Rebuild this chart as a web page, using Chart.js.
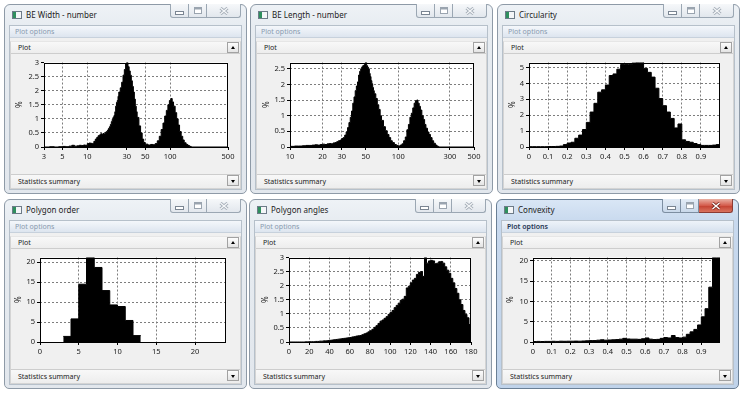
<!DOCTYPE html>
<html>
<head>
<meta charset="utf-8">
<script src="https://cdn.jsdelivr.net/npm/chart.js"></script>
<style>
*{box-sizing:border-box}
html,body{margin:0;padding:0;width:743px;height:396px;overflow:hidden;background:#fff;font-family:'Noto Sans','Open Sans',sans-serif;}
.win{position:absolute;width:243px;height:190px;border:1px solid #8e9aa7;border-radius:6px 6px 5px 5px;background:linear-gradient(#eef2f6 0,#e7ecf1 22px,#e2e7ed 100%);}
.win.active{border-color:#6a7f95;background:linear-gradient(#d9e6f5 0,#c8d9ee 22px,#c0d3ea 100%);}
.ico{position:absolute;left:7px;top:6px;width:10px;height:8px;border:1px solid #6d7b88;background:linear-gradient(90deg,#2f8f5e 0,#2f8f5e 3px,#f4f6f8 3px);}
.ttl{position:absolute;left:21px;top:3px;font-size:8px;line-height:13px;color:#1e1e1e;white-space:nowrap}
.caps{position:absolute;right:5px;top:-1px;height:14px;display:flex}
.cap{height:14px;border:1px solid #9ba7b3;border-top:none;background:linear-gradient(#f6f8fa,#e2e7ed);display:flex;align-items:center;justify-content:center}
.cap.mn{width:19px;border-radius:0 0 0 3px}
.cap.mx{width:18px;border-left:none}
.cap.cl{width:34px;border-left:none;border-radius:0 0 3px 0}
.active .cap{border-color:#7d8ea1;background:linear-gradient(#e3ecf6,#c9d8ea)}
.active .cap.cl{background:linear-gradient(#eab0a3,#d45c4c 50%,#c43f2f 51%,#d9735f);border-color:#8c3b33}
.client{position:absolute;left:5px;top:21px;width:231px;height:163px;background:#f0f0f0;box-shadow:0 0 0 1px #b6c0ca;}
.opts{position:absolute;left:0;top:0;width:100%;height:12px;background:linear-gradient(#f4f7fb,#dde5ef);border-bottom:1px solid #c7d1dc;font-size:7px;line-height:11px;padding-left:5px;color:#8899ae;white-space:nowrap}
.active .opts{color:#1f3552;background:linear-gradient(#eef3f9,#d6e1ee);font-weight:600}
.panel{position:absolute;left:0;top:15px;width:100%;height:148px;border:1px solid #d4d4d4;border-top-color:#e6e6e6;background:#f0f0f0}
.bar{position:absolute;left:0;width:100%;height:12px;font-size:7px;line-height:11px;color:#222;padding-left:7px;background:linear-gradient(#f8f8f8,#ededed);border-bottom:1px solid #cdcdcd;white-space:nowrap}
.bar.plot{top:0}
.bar.stat{top:132px;border-top:1px solid #cdcdcd;border-bottom:none;height:14px;line-height:13px}
.btn{position:absolute;right:1px;top:0;width:12px;height:11px;border:1px solid #a2a2a2;background:linear-gradient(#fdfdfd,#e4e4e4)}
.btn:after{content:'';position:absolute;left:2.5px;border-left:2.5px solid transparent;border-right:2.5px solid transparent}
.btn.up:after{top:3px;border-bottom:3px solid #000}
.btn.dn:after{top:4px;border-top:3px solid #000}
.cv{position:absolute}
</style>
</head>
<body>
<script>
// ---------- data ----------
// BE Width - number (log-binned, left bin edges in µm-like units, % per bin)
const widthX = [3,3.5,4,4.5,5,5.5,6,6.5,7,7.5,8,8.5,9,9.5,
  10,10.5,11,11.5,12,12.5,13,13.5,14,14.5,15,15.5,16,16.5,17,17.5,18,18.5,19,19.5,
  20,20.5,21,21.5,22,22.5,23,23.5,24,25,26,27,28,29,
  30,31,32,33,34,35,36,37,38,39,40,42,44,46,48,
  50,54,58,62,66,70,74,78,82,86,90,94,98,102,106,110,115,120,125,130,136,142,148,156,164,172,180];
const widthY = [0,0.01,0,0.01,0.02,0.01,0.03,0.06,0.03,0.04,0.06,0.05,0.07,0.06,
  0.12,0.14,0.13,0.12,0.2,0.28,0.34,0.4,0.43,0.47,0.45,0.48,0.46,0.52,0.55,0.6,0.66,0.72,0.8,0.9,
  0.98,1.06,1.12,1.25,1.45,1.58,1.65,1.8,1.95,2.1,2.3,2.55,2.75,2.95,
  3.0,2.85,2.7,2.55,2.35,2.15,1.95,1.7,1.45,1.25,1.05,0.75,0.5,0.28,0.16,
  0.1,0.07,0.09,0.08,0.12,0.22,0.38,0.62,0.85,1.1,1.3,1.5,1.65,1.72,1.6,1.45,1.22,1.0,0.78,0.55,0.38,0.25,0.15,0.09,0.05,0.02,0];
const widthEnd = 500;
const widthTicks = [3,5,10,30,50,100,500];
const widthYTicks = [0,0.5,1,1.5,2,2.5,3];

// BE Length - number
const lengthX = [10,11,12,13,14,15,16,17,18,19,20,21,22,23,24,25,26,27,28,29,
  30,31,32,33,34,35,36,37,38,39,40,41,42,43,44,45,46,47,48,49,
  50,51,52,53,54,55,56,57,58,59,60,62,64,66,68,70,73,76,79,82,85,88,92,96,
  100,104,108,112,116,120,124,128,132,136,140,144,148,152,156,160,165,170,175,180,186,192,198,205,212,220,228,236];
const lengthY = [0.02,0.03,0.03,0.04,0.05,0.05,0.06,0.07,0.06,0.08,0.09,0.08,0.1,0.11,0.1,0.13,0.14,0.17,0.2,0.22,
  0.27,0.3,0.38,0.48,0.62,0.78,0.95,1.15,1.4,1.6,1.8,1.95,2.08,2.3,2.42,2.5,2.56,2.6,2.62,2.68,
  2.7,2.6,2.55,2.5,2.35,2.25,2.12,2.02,1.9,1.8,1.7,1.55,1.35,1.2,1.0,0.85,0.65,0.52,0.4,0.3,0.2,0.14,0.08,0.05,
  0.03,0.06,0.1,0.2,0.32,0.55,0.72,0.95,1.08,1.25,1.4,1.48,1.5,1.4,1.3,1.18,
  1.0,0.88,0.72,0.6,0.48,0.4,0.3,0.2,0.12,0.06,0.02,0];
const lengthEnd = 500;
const lengthTicks = [10,20,30,50,100,300,500];
const lengthYTicks = [0,0.5,1,1.5,2,2.5];

// bins of 0.02 for Circularity and Convexity
const unitBins = [0,0.02,0.04,0.06,0.08,0.1,0.12,0.14,0.16,0.18,0.2,0.22,0.24,0.26,0.28,0.3,0.32,0.34,0.36,0.38,
  0.4,0.42,0.44,0.46,0.48,0.5,0.52,0.54,0.56,0.58,0.6,0.62,0.64,0.66,0.68,0.7,0.72,0.74,0.76,0.78,
  0.8,0.82,0.84,0.86,0.88,0.9,0.92,0.94,0.96,0.98];
const unitTicks = [0,0.1,0.2,0.3,0.4,0.5,0.6,0.7,0.8,0.9];

// Circularity
const circY = [0.02,0.02,0.02,0.02,0.02,0.03,0.03,0.04,0.06,0.15,
  0.25,0.3,0.55,0.75,1.1,1.55,2.2,2.75,3.45,3.6,
  3.9,4.5,4.6,4.9,5.2,5.2,5.2,5.3,5.32,5.32,
  4.95,4.7,4.4,3.7,3.05,2.6,2.2,1.8,1.2,1.45,
  0.45,0.35,0.3,0.22,0.15,0.1,0.1,0.1,0.12,0.15];
const circYTicks = [0,1,2,3,4,5];

// Polygon order
const orderX = [3,4,5,6,7,8,9,10,11,12];
const orderY = [1.4,5.8,14.5,21.2,18.7,12.9,9.3,8.9,5.4,1.6];
const orderTicks = [0,5,10,15,20];
const orderYTicks = [0,5,10,15,20];

// Polygon angles (2 degree bins)
const angleX = [0,2,4,6,8,10,12,14,16,18,20,22,24,26,28,30,32,34,36,38,40,42,44,46,48,50,52,54,56,58,
  60,62,64,66,68,70,72,74,76,78,80,82,84,86,88,90,92,94,96,98,100,102,104,106,108,110,112,114,116,118,
  120,122,124,126,128,130,132,134,136,138,140,142,144,146,148,150,152,154,156,158,160,162,164,166,168,170,172,174,176,178];
const angleY = [0,0,0,0,0,0,0,0,0.005,0.005,
  0.01,0.01,0.01,0.02,0.02,0.03,0.03,0.04,0.04,0.05,
  0.06,0.07,0.08,0.09,0.1,0.11,0.12,0.13,0.14,0.15,
  0.16,0.18,0.19,0.21,0.22,0.23,0.26,0.29,0.32,0.36,
  0.4,0.45,0.52,0.58,0.66,0.74,0.78,0.84,0.9,0.98,
  1.05,1.12,1.22,1.3,1.38,1.48,1.52,1.62,1.92,1.98,
  2.1,2.2,2.26,2.4,2.47,2.5,2.33,3.0,2.8,2.88,
  2.9,2.88,2.78,2.8,2.85,2.86,2.8,2.67,2.55,2.44,
  2.26,2.1,1.9,1.73,1.5,1.33,1.12,0.98,0.86,0.62];
const angleTicks = [0,20,40,60,80,100,120,140,160,180];
const angleYTicks = [0,0.5,1,1.5,2,2.5,3];

// Convexity
const convY = [0.12,0.15,0.12,0.15,0.15,0.18,0.15,0.2,0.18,0.2,
  0.2,0.22,0.2,0.25,0.3,0.35,0.35,0.45,0.55,0.45,
  0.5,0.55,0.6,0.7,0.9,0.75,0.7,0.7,0.65,0.8,
  1.0,0.7,0.6,0.65,0.9,1.1,1.0,1.6,1.1,1.0,
  1.2,1.9,2.5,3.1,4.2,6.2,8.2,13.5,20.8,20.8];
const convYTicks = [0,5,10,15,20];

const titles = ['BE Width - number','BE Length - number','Circularity','Polygon order','Polygon angles','Convexity'];

// ---------- window chrome ----------
const winPos = [[4,4],[250,4],[497,4],[4,199],[249,199],[496,199]];
const gMin = c => `<svg width="9" height="4" style="margin-top:4px"><rect x="0.5" y="0.5" width="8" height="3" fill="#fff" stroke="${c}"/></svg>`;
const gMax = c => `<svg width="8" height="7"><rect x="0.5" y="0.5" width="7" height="6" fill="#fff" stroke="${c}"/><rect x="1" y="1" width="6" height="1.5" fill="${c}"/></svg>`;
const gCls = (c,f) => `<svg width="10" height="8"><path d="M1.5 1L8.5 7M8.5 1L1.5 7" stroke="${c}" stroke-width="3"/><path d="M1.5 1L8.5 7M8.5 1L1.5 7" stroke="${f}" stroke-width="1.4"/></svg>`;
titles.forEach((t,i)=>{
  const active = i===5;
  const w = document.createElement('div');
  w.className = 'win'+(active?' active':'');
  w.style.left = winPos[i][0]+'px'; w.style.top = winPos[i][1]+'px';
  w.innerHTML = `<div class="ico"></div><div class="ttl">${t}</div>
  <div class="caps"><div class="cap mn">${gMin('#7a8592')}</div><div class="cap mx">${gMax('#9aa4af')}</div><div class="cap cl">${active?gCls('#7a2a22','#fff'):gCls('#a3acb6','#f4f6f8')}</div></div>
  <div class="client"><div class="opts">Plot options</div>
   <div class="panel"><div class="bar plot">Plot<div class="btn up"></div></div>
   <div class="bar stat">Statistics summary<div class="btn dn"></div></div></div></div>`;
  document.body.appendChild(w);
});

// ---------- charts ----------
Chart.defaults.font.family = "'Noto Sans','Open Sans',sans-serif";
Chart.defaults.font.size = 7.5;
Chart.defaults.color = '#1a1a1a';

const framePlugin = {
  id:'frame',
  beforeDraw(c){const a=c.chartArea,x=c.ctx;x.save();x.fillStyle='#fff';x.fillRect(a.left,a.top,a.right-a.left,a.bottom-a.top);x.restore();},
  afterDatasetsDraw(c){const a=c.chartArea,x=c.ctx;x.save();x.strokeStyle='#000';x.lineWidth=1;
    x.strokeRect(Math.round(a.left)+0.5,Math.round(a.top)+0.5,Math.round(a.right-a.left)-1,Math.round(a.bottom-a.top)-1);x.restore();}
};
const edgeColor = (mn,mx) => c => (c.tick && (c.tick.value<=mn+1e-9 || c.tick.value>=mx-1e-9)) ? 'rgba(0,0,0,0)' : '#7d7d7d';

const specs = [
  {left:44, top:62, w:184, W:29, xs:widthX, ys:widthY, end:widthEnd, xType:'logarithmic', xMin:3, xMax:500, xTicks:widthTicks, yMax:3, yTicks:widthYTicks},
  {left:290, top:62, w:184, W:28, xs:lengthX, ys:lengthY, end:lengthEnd, xType:'logarithmic', xMin:10, xMax:500, xTicks:lengthTicks, yMax:2.7, yTicks:lengthYTicks},
  {left:529, top:62, w:191, W:21, xs:unitBins, ys:circY, end:1, xType:'linear', xMin:0, xMax:1, xTicks:unitTicks, yMax:5.32, yTicks:circYTicks},
  {left:40, top:257, w:186, W:26, xs:orderX, ys:orderY, end:13, xType:'linear', xMin:0, xMax:24, xTicks:orderTicks, yMax:21.2, yTicks:orderYTicks},
  {left:289, top:257, w:182, W:28, xs:angleX, ys:angleY, end:180, xType:'linear', xMin:0, xMax:180, xTicks:angleTicks, yMax:3, yTicks:angleYTicks},
  {left:533, top:257, w:187, W:27, xs:unitBins, ys:convY, end:1, xType:'linear', xMin:0, xMax:1, xTicks:unitTicks, yMax:20.8, yTicks:convYTicks}
];
const PH = 85;
specs.forEach(s=>{
  const d = document.createElement('div'); d.className='cv';
  d.style.left=(s.left-s.W)+'px'; d.style.top=(s.top-6)+'px';
  d.style.width=(s.w+s.W+12)+'px'; d.style.height=(PH+6+18)+'px';
  const cv = document.createElement('canvas'); d.appendChild(cv); document.body.appendChild(d);
  const pts = s.xs.map((x,i)=>({x:x,y:s.ys[i]}));
  pts.push({x:s.end,y:s.ys[s.ys.length-1]});
  new Chart(cv,{
    type:'line',
    data:{datasets:[{data:pts,stepped:'before',fill:'origin',backgroundColor:'#000',borderColor:'#000',borderWidth:1,pointRadius:0,tension:0}]},
    options:{
      responsive:true,maintainAspectRatio:false,animation:false,events:[],
      layout:{padding:{top:6,right:12,left:0,bottom:0}},
      plugins:{legend:{display:false},tooltip:{enabled:false},title:{display:false}},
      scales:{
        x:{type:s.xType,min:s.xMin,max:s.xMax,
          afterBuildTicks:sc=>{sc.ticks=s.xTicks.map(v=>({value:v}));},
          afterFit:sc=>{sc.height=18;},
          ticks:{autoSkip:false,maxRotation:0,minRotation:0,padding:2,callback:v=>String(v)},
          grid:{color:edgeColor(s.xMin,s.xMax),tickColor:'#000',tickLength:3,lineWidth:1},
          border:{display:false,dash:[2,2]}},
        y:{type:'linear',min:0,max:s.yMax,
          afterBuildTicks:sc=>{sc.ticks=s.yTicks.map(v=>({value:v}));},
          afterFit:sc=>{sc.width=s.W;},
          ticks:{autoSkip:false,padding:2,callback:v=>String(v)},
          grid:{color:edgeColor(0,s.yMax),tickColor:'#000',tickLength:3,lineWidth:1},
          border:{display:false,dash:[2,2]},
          title:{display:true,text:'%',padding:0,font:{size:8},color:'#222'}}
      }
    },
    plugins:[framePlugin]
  });
});
</script>
</body>
</html>
